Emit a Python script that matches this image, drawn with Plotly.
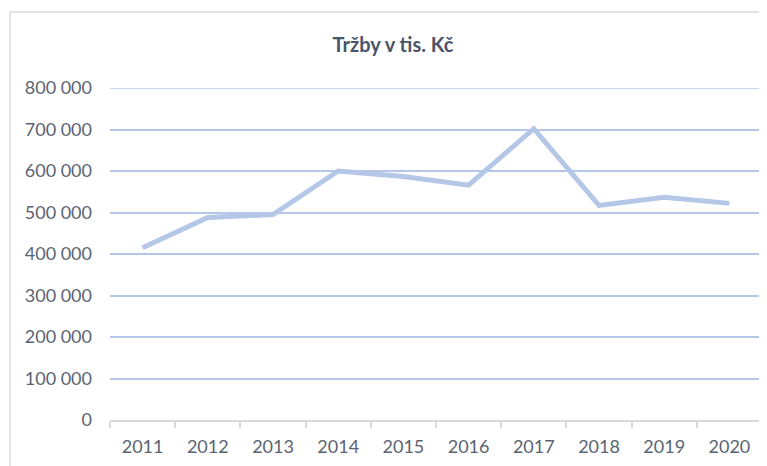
import plotly.graph_objects as go

years = ["2011", "2012", "2013", "2014", "2015", "2016", "2017", "2018", "2019", "2020"]
sales = [415000, 488000, 495000, 600000, 587000, 566000, 702000, 517000, 537000, 522000]
y_ticks = [0, 100000, 200000, 300000, 400000, 500000, 600000, 700000, 800000]
title_text = "Tržby v tis. Kč"

# page body has an 8px margin, so layout coordinates are offset by 8
OFF = 8
W, H = 767 - OFF, 466 - OFF
L, R, T, B = 110 - OFF, 5, 88 - OFF, 46
pw = W - L - R
ph = H - T - B

GRID = "#B4C7E7"

fig = go.Figure()
fig.add_trace(go.Scatter(
    x=years, y=sales, mode="lines",
    line=dict(color="#B4C7E7", width=5),
    hoverinfo="x+y",
))

fig.update_layout(
    width=W, height=H,
    margin=dict(l=L, r=R, t=T, b=B),
    paper_bgcolor="white", plot_bgcolor="white",
    separators=", ",
    showlegend=False,
    font=dict(family="Lato", size=18, color="#5B6472"),
    title=dict(text="<b>" + title_text + "</b>", x=(393 - OFF) / W, xanchor="center",
               y=1 - (45 - OFF) / H, yanchor="middle",
               font=dict(family="Lato", size=20, color="#4A5568")),
    xaxis=dict(
        type="category", range=[-0.5, 9.5],
        showline=True, linecolor="#D9D9D9", linewidth=1.5,
        ticks="outside", tickson="boundaries", ticklen=6, tickcolor="#D9D9D9",
        tickwidth=1.5, ticklabelstandoff=10,
        showgrid=False, zeroline=False, fixedrange=True,
    ),
    yaxis=dict(
        range=[0, max(y_ticks)], tickvals=y_ticks,
        tickformat=",d",
        showgrid=True, gridcolor=GRID, gridwidth=1.5,
        zeroline=False, showline=False, ticks="", ticklabelstandoff=17,
        fixedrange=True,
    ),
    shapes=[
        dict(
            type="rect", xref="paper", yref="paper",
            x0=(10 - OFF - L) / pw, x1=(W + 20 - L) / pw,
            y0=-(B + 20) / ph, y1=(ph + T - (12 - OFF)) / ph,
            line=dict(color="#D9D9D9", width=1.5), fillcolor="rgba(0,0,0,0)",
            layer="below",
        ),
        dict(
            type="line", xref="paper", yref="y",
            x0=0, x1=1, y0=max(y_ticks), y1=max(y_ticks),
            line=dict(color=GRID, width=1.5), layer="below",
        ),
    ],
)

fig.write_html("out.html")
